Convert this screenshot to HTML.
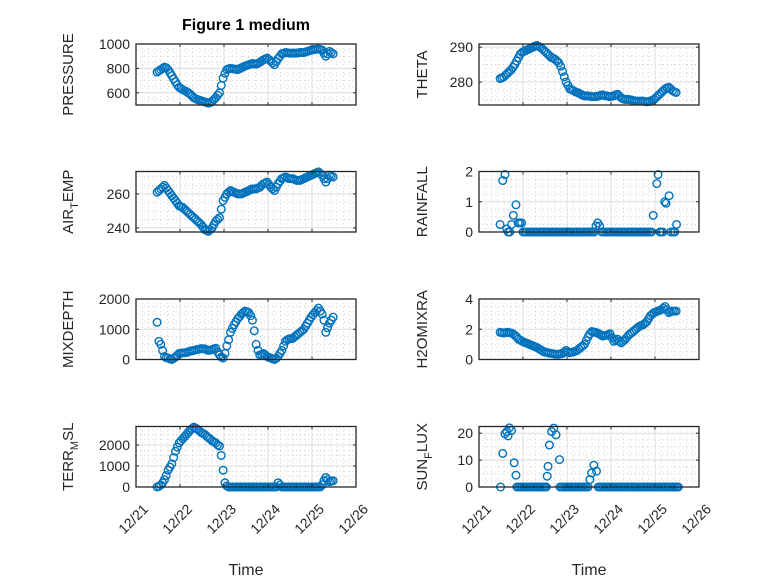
<!DOCTYPE html>
<html><head><meta charset="utf-8"><style>
html,body{margin:0;padding:0;background:#fff;}
svg{display:block;font-family:"Liberation Sans","DejaVu Sans",sans-serif;}
</style></head><body>
<svg id="fig" width="778" height="583" viewBox="0 0 778 583">
<rect width="778" height="583" fill="#fff"/>
<text x="246" y="30" text-anchor="middle" font-size="16" font-weight="bold" fill="#000">Figure 1 medium</text>
</svg>
<script>
const tHour = Array.from({length:97}, (_, i) => 0.48 + i/24);
const xTickLabels = ["12/21","12/22","12/23","12/24","12/25","12/26"];
const pressureV = [770,780,790,800,810,805,790,765,740,715, 690,665,645,635,625,618,610,600,590,575, 560,552,545,540,535,530,525,520,515,520, 530,545,560,580,600,660,720,760,790,797, 800,798,795,792,790,798,805,812,820,825, 830,835,840,838,835,842,850,860,870,878, 885,872,860,845,830,855,880,900,920,925, 930,928,925,925,925,925,925,928,930,930, 930,935,940,945,950,952,955,958,960,955, 950,925,900,920,940,930,920];
const airTempV = [261,262,263,264,265,263.5,262,260.5,259,257.5, 256,254.5,253,252.5,252,251,250,249,248,247, 246,245,244,243,242,240.5,239,238.5,238,239, 240,242,244,245,246,251,256,258,260,261, 262,261.5,261,260.5,260,260,260,260.5,261,261.5, 262,262.5,263,263,263,263.5,264,265,266,266.5, 267,265.5,264,263,262,264,266,267.5,269,269.5, 270,269.5,269,269,269,268.5,268,268,268,268.5, 269,269.5,270,270.5,271,271.5,272,272.5,273,272, 271,269,267,269,271,270.5,270];
const thetaV = [281,281.2,281.5,282,282.5,283,283.5,284.2,285,286, 287,288,288.5,288.8,289,289.3,289.5,289.8,290,290.3, 290.5,290.2,290,289.5,289,288.5,288,287.5,287,286.8, 286.5,286,285.5,284.5,283,281.5,280,279,278,277.8, 277.5,277.2,277,276.8,276.5,276.2,276,276,276,275.9, 275.8,275.8,275.8,275.9,276,276.2,276.3,276.1,276,275.9, 275.8,275.9,276,276.3,276.5,276,275.5,275.2,275,275, 275,274.9,274.8,274.6,274.5,274.5,274.5,274.5,274.5,274.4, 274.3,274.4,274.5,274.8,275,275.5,276,276.5,277,277.5, 278,278.3,278.5,278,277.5,277.2,277];
const mixDepthV = [1230,600,500,300,100,60,50,20,0,40, 80,140,200,210,220,225,230,250,280,290, 300,320,330,345,360,355,350,320,300,310, 330,350,370,250,150,80,50,200,450,650, 900,1030,1150,1250,1350,1420,1500,1550,1600,1580, 1550,1450,1300,950,500,300,150,170,200,150, 100,70,50,20,0,40,100,200,300,450, 600,650,680,690,700,750,800,850,900,950, 1000,1100,1200,1300,1400,1480,1550,1620,1700,1600, 1500,1300,900,1050,1200,1300,1400];
const h2oV = [1.8,1.78,1.75,1.78,1.8,1.78,1.75,1.7,1.6,1.5, 1.35,1.28,1.2,1.15,1.1,1.05,1.0,0.95,0.9,0.85, 0.8,0.72,0.65,0.58,0.5,0.48,0.45,0.42,0.4,0.38, 0.35,0.35,0.35,0.38,0.4,0.5,0.6,0.5,0.45,0.48, 0.5,0.55,0.6,0.7,0.8,0.9,1.0,1.25,1.5,1.7, 1.85,1.82,1.8,1.75,1.7,1.62,1.55,1.58,1.6,1.65, 1.7,1.45,1.2,1.28,1.35,1.2,1.1,1.2,1.3,1.45, 1.6,1.7,1.8,1.9,2.0,2.1,2.2,2.25,2.3,2.4, 2.5,2.7,2.9,3.0,3.1,3.15,3.2,3.25,3.3,3.4, 3.5,3.3,3.1,3.15,3.2,3.2,3.2];
const terrV = [0,30,100,200,350,550,800,950,1100,1400, 1700,1900,2100,2200,2300,2400,2500,2600,2700,2780, 2850,2800,2750,2680,2600,2550,2500,2420,2350,2280, 2200,2150,2100,2000,1950,1500,800,200,50,0, 0,0,0,0,0,0,0,0,0,0, 0,0,0,0,0,0,0,0,0,0, 0,0,0,0,0,0,200,100,0,0, 0,0,0,0,0,0,0,0,0,0, 0,0,0,0,0,0,0,0,0,0, 100,300,450,350,250,280,300];
const rainT = [0.48,0.54,0.59,0.63,0.66,0.70,0.74,0.78,0.84,0.89,0.93,0.97,
 1.00,1.04,1.08,1.13,1.17,1.21,1.25,1.29,1.33,1.38,1.42,1.46,1.50,1.54,1.58,1.63,1.67,1.71,1.75,1.79,1.83,1.88,1.92,1.96,2.00,2.04,2.08,2.13,2.17,2.21,2.25,2.29,2.33,2.38,2.42,2.46,2.50,2.54,2.58,2.62,
 2.66,2.70,2.74,
 2.79,2.83,2.88,2.92,2.96,3.00,3.04,3.08,3.13,3.17,3.21,3.25,3.29,3.33,3.38,3.42,3.46,3.50,3.54,3.58,3.63,3.67,3.71,3.75,3.79,3.83,3.88,3.92,
 3.96,4.04,4.07,4.11,4.14,4.18,4.22,4.25,4.32,4.36,4.41,4.45,4.49];
const rainV = [0.25,1.7,1.9,0.1,0,0,0.25,0.55,0.9,0.3,0.3,0.3,
 0,0,0,0,0,0,0,0,0,0, 0,0,0,0,0,0,0,0,0,0, 0,0,0,0,0,0,0,0,0,0, 0,0,0,0,0,0,0,0,0,0,
 0.2,0.3,0.2,
 0,0,0,0,0,0,0,0,0,0, 0,0,0,0,0,0,0,0,0,0, 0,0,0,0,0,0,0,0,
 0.55,1.6,1.9,0,0,0,1.0,0.95,1.2,0,0,0,0.25];
const sunT = [0.49,0.54,0.59,0.63,0.66,0.69,0.74,0.80,0.84,
 0.86,0.90,0.94,0.98,1.02,1.06,1.10,1.14,1.18,1.22,1.26,1.30,1.34,1.38,1.42,1.46,1.50,1.53,
 1.55,1.57,1.60,1.65,1.70,1.75,1.83,
 1.84,1.88,1.92,1.96,2.00,2.04,2.08,2.12,2.16,2.20,2.24,2.28,2.32,2.36,2.40,2.44,2.48,
 2.52,2.56,2.61,2.67,
 2.71,2.75,2.79,2.83,2.88,2.92,2.96,3.00,3.04,3.08,3.13,3.17,3.21,3.25,3.29,3.33,3.38,3.42,3.46,3.50,3.54,3.58,3.63,3.67,3.71,3.75,3.79,3.83,3.88,3.92,3.96,4.00,4.04,4.08,4.13,4.17,4.21,4.25,4.29,4.33,4.38,4.42,4.46,4.50,4.53];
const sunV = [0,12.5,19.8,20.6,19,22,21,9,4.4,
 0,0,0,0,0,0,0,0,0,0, 0,0,0,0,0,0,0,0,
 4,7.7,15.6,20.6,21.9,19.4,10.2,
 0,0,0,0,0,0,0,0,0,0, 0,0,0,0,0,0,0,
 2.75,5.2,8.1,5.9,
 0,0,0,0,0,0,0,0,0,0, 0,0,0,0,0,0,0,0,0,0, 0,0,0,0,0,0,0,0,0,0, 0,0,0,0,0,0,0,0,0,0, 0,0,0,0,0];

const NS = "http://www.w3.org/2000/svg";
const svg = document.getElementById('fig');
function el(tag, attrs, parent){
  const e = document.createElementNS(NS, tag);
  for (const k in attrs) e.setAttribute(k, attrs[k]);
  (parent||svg).appendChild(e);
  return e;
}
const colL = [136, 356], colR = [479, 699];
const rows = [[44,105],[171.5,232],[299,359.5],[426.5,487]];

function panel(key, col, row, ylim, yticks, ytickLabels, yMinor, labelParts, times, vals, showX){
  const [x0,x1] = col, [y0,y1] = row;
  const g = el('g', {});
  
  
  const sx = t => x0 + (t/5)*(x1-x0);
  const sy = v => y1 - (v-ylim[0])/(ylim[1]-ylim[0])*(y1-y0);
  for (let m = 0; m <= 5*7; m++){
    if (m % 7 === 0) continue;
    const x = sx(m/7);
    el('line', {x1:x, x2:x, y1:y0, y2:y1, stroke:'#c8c8c8', 'stroke-width':0.8, 'stroke-dasharray':'1 3'}, g);
  }
  for (let v = Math.ceil(ylim[0]/yMinor)*yMinor; v < ylim[1]; v += yMinor){
    if (yticks.some(t => Math.abs(t-v) < 1e-9)) continue;
    const y = sy(v);
    el('line', {x1:x0, x2:x1, y1:y, y2:y, stroke:'#c8c8c8', 'stroke-width':0.8, 'stroke-dasharray':'1 3'}, g);
  }
  for (let d = 1; d < 5; d++){
    const x = sx(d);
    el('line', {x1:x, x2:x, y1:y0, y2:y1, stroke:'#dcdcdc', 'stroke-width':1}, g);
  }
  yticks.forEach(v => {
    const y = sy(v);
    if (y > y0+1 && y < y1-1) el('line', {x1:x0, x2:x1, y1:y, y2:y, stroke:'#dcdcdc', 'stroke-width':1}, g);
  });
  const clip = el('clipPath', {id:'clip-'+key}, g);
  el('rect', {x:x0-5, y:y0-5, width:x1-x0+10, height:y1-y0+10}, clip);
  const mg = el('g', {'clip-path':'url(#clip-'+key+')'}, g);
  
  
  for (let i = 0; i < vals.length; i++){
    const c = el('circle', {cx:sx(times[i]), cy:sy(vals[i]), r:3.8, fill:'none', stroke:'#0072BD', 'stroke-width':1.4}, mg);
    
    
  }
  const box = el('rect', {x:x0, y:y0, width:x1-x0, height:y1-y0, fill:'none', stroke:'#262626', 'stroke-width':1.3}, g);
  
  
  for (let d = 0; d <= 5; d++){
    const x = sx(d);
    el('line', {x1:x, x2:x, y1:y1, y2:y1-3, stroke:'#262626', 'stroke-width':1}, g);
    el('line', {x1:x, x2:x, y1:y0, y2:y0+3, stroke:'#262626', 'stroke-width':1}, g);
    if (showX){
      const tx = x + 13, ty = y1 + 23;
      const t = el('text', {x:tx, y:ty, 'text-anchor':'end', 'font-size':14, fill:'#262626', transform:'rotate(-45 '+tx+' '+ty+')'}, g);
      
      
      t.textContent = xTickLabels[d];
    }
  }
  yticks.forEach((v, i) => {
    const y = sy(v);
    el('line', {x1:x0, x2:x0+3, y1:y, y2:y, stroke:'#262626', 'stroke-width':1}, g);
    el('line', {x1:x1, x2:x1-3, y1:y, y2:y, stroke:'#262626', 'stroke-width':1}, g);
    const t = el('text', {x:x0-6, y:y+5, 'text-anchor':'end', 'font-size':14, fill:'#262626'}, g);
    
    
    t.textContent = ytickLabels[i];
  });
  const lx = x0 - (col === colL ? 63 : 52), ly = (y0+y1)/2;
  const yl = el('text', {x:lx, y:ly, 'text-anchor':'middle', 'font-size':15, fill:'#262626', transform:'rotate(-90 '+lx+' '+ly+')'}, g);
  
  
  labelParts.forEach(p => {
    const s = el('tspan', {}, yl);
    if (p.sub){ s.setAttribute('font-size', 11); s.setAttribute('dy', 5); }
    else if (p.after){ s.setAttribute('dy', -5); }
    s.textContent = p.t;
  });
  if (showX){
    const xt = el('text', {x:(x0+x1)/2, y:575, 'text-anchor':'middle', 'font-size':16, fill:'#262626'}, g);
    
    
    xt.textContent = 'Time';
  }
}

panel('pressure', colL, rows[0], [500,1000], [600,800,1000], ['600','800','1000'], 50, [{t:'PRESSURE'}], tHour, pressureV, false);
panel('theta', colR, rows[0], [273.4,290.9], [280,290], ['280','290'], 2.5, [{t:'THETA'}], tHour, thetaV, false);
panel('air-temp', colL, rows[1], [237.6,273.2], [240,260], ['240','260'], 5, [{t:'AIR'},{t:'T',sub:true},{t:'EMP',after:true}], tHour, airTempV, false);
panel('rainfall', colR, rows[1], [0,2], [0,1,2], ['0','1','2'], 0.25, [{t:'RAINFALL'}], rainT, rainV, false);
panel('mixdepth', colL, rows[2], [0,2000], [0,1000,2000], ['0','1000','2000'], 250, [{t:'MIXDEPTH'}], tHour, mixDepthV, false);
panel('h2omixra', colR, rows[2], [0,4], [0,2,4], ['0','2','4'], 0.5, [{t:'H2OMIXRA'}], tHour, h2oV, false);
panel('terr-msl', colL, rows[3], [0,2880], [0,1000,2000], ['0','1000','2000'], 250, [{t:'TERR'},{t:'M',sub:true},{t:'SL',after:true}], tHour, terrV, true);
panel('sun-flux', colR, rows[3], [0,22.5], [0,10,20], ['0','10','20'], 2.5, [{t:'SUN'},{t:'F',sub:true},{t:'LUX',after:true}], sunT, sunV, true);
</script>
</body></html>
